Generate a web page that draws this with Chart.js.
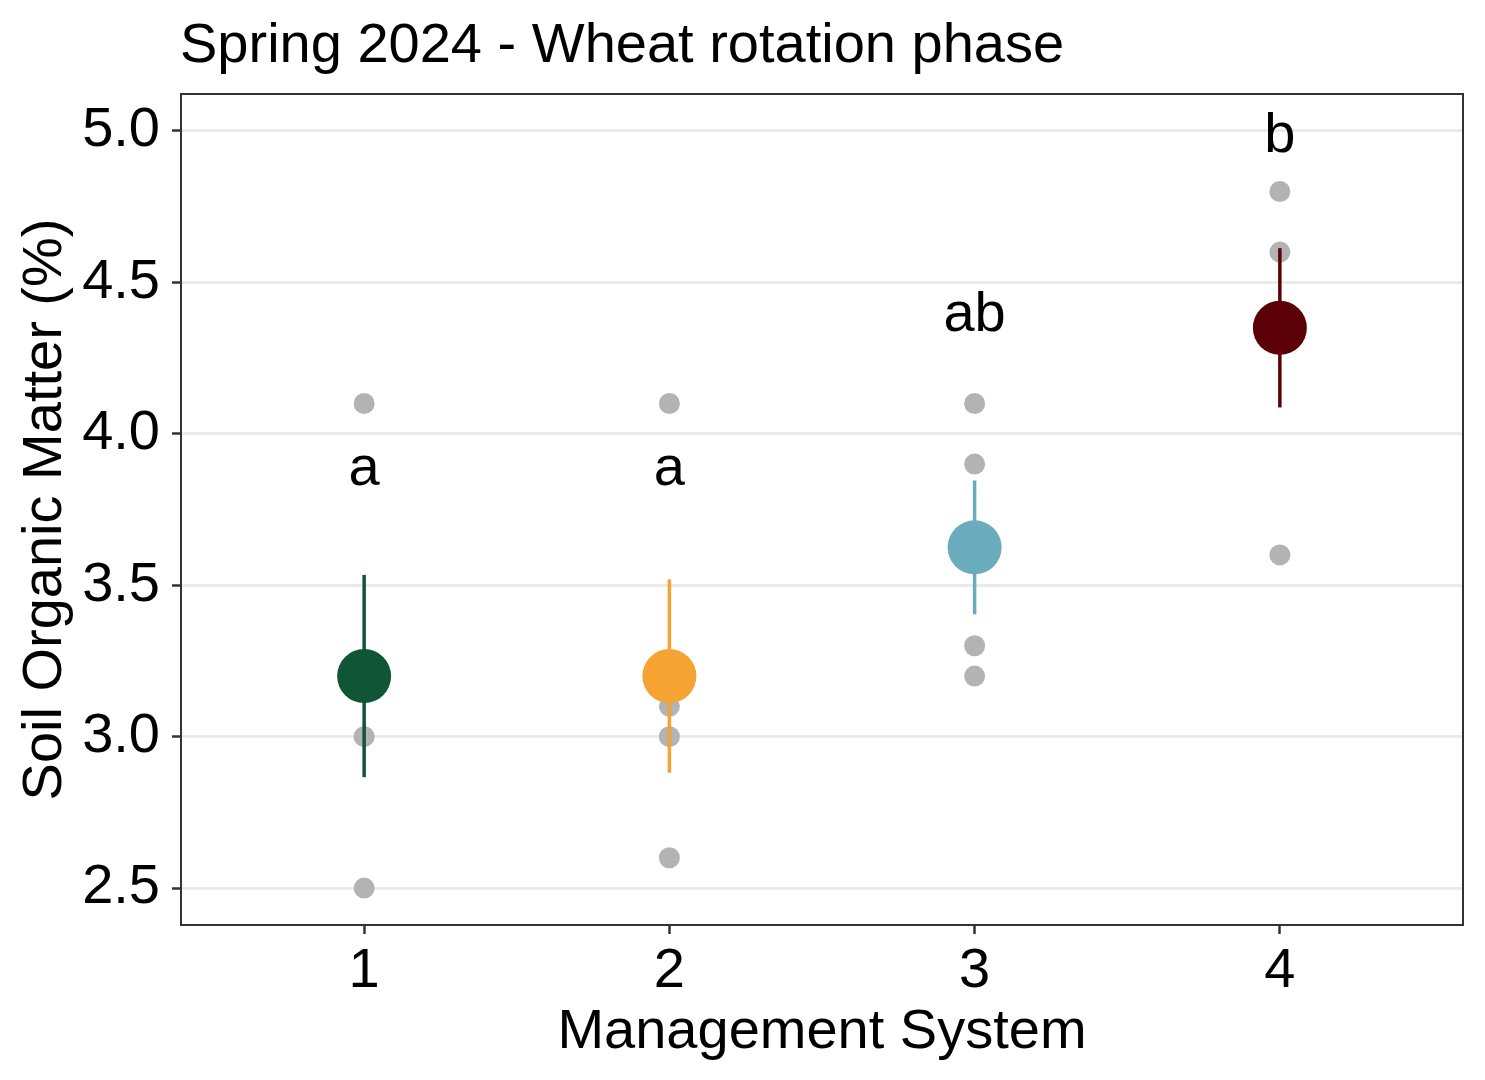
<!DOCTYPE html>
<html>
<head>
<meta charset="utf-8">
<title>Soil organic matter - Spring 2024</title>
<script src="https://cdn.jsdelivr.net/npm/chart.js@4.4.1/dist/chart.umd.min.js"></script>
<style>
html, body { margin: 0; padding: 0; background: #fff; overflow: hidden; }
/* a little wider than the window: Chart.js keeps a 27px margin for the big mean dots */
#wrap { width: 1490px; height: 1080px; position: relative; }
canvas { display: block; }
</style>
</head>
<body>
<div id="wrap"><canvas id="chart"></canvas></div>
<script>
// values
var systems = [1, 2, 3, 4];
var soilSys1 = [4.1, 3.2, 3.0, 2.5];
var soilSys2 = [4.1, 3.1, 3.0, 2.6];
var soilSys3 = [4.1, 3.9, 3.3, 3.2];
var soilSys4 = [4.8, 4.6, 4.4, 3.6];
var soilMean = [3.2, 3.2, 3.625, 4.35];
var soilSe = [0.334, 0.319, 0.221, 0.263];
var letters = ['a', 'a', 'ab', 'b'];
var letterY = [3.83, 3.83, 4.34, 4.93];
var yTicks = [2.5, 3.0, 3.5, 4.0, 4.5, 5.0];
var sysColors = ['#0f5536', '#f5a332', '#6aabbc', '#5c0008'];

var FONT = '"Liberation Sans", Arial, Helvetica, sans-serif';
Chart.defaults.font.family = FONT;
Chart.defaults.color = '#000';

var rawSets = [soilSys1, soilSys2, soilSys3, soilSys4];
var rawPoints = [];
rawSets.forEach(function (vals, i) {
    vals.forEach(function (v) {
        rawPoints.push({x: systems[i], y: v});
    });
});

var datasets = [{
    label: 'observations',
    data: rawPoints,
    pointRadius: 10.5,
    pointBackgroundColor: '#b3b3b3',
    pointBorderWidth: 0,
    showLine: false,
    order: 3
}];

// mean +/- se bars, one small line per system
systems.forEach(function (s, i) {
    datasets.push({
        label: 'se ' + s,
        data: [{x: s, y: soilMean[i] - soilSe[i]}, {x: s, y: soilMean[i] + soilSe[i]}],
        showLine: true,
        borderColor: sysColors[i],
        borderWidth: 3.5,
        pointRadius: 0,
        order: 2
    });
});

datasets.push({
    label: 'mean',
    data: systems.map(function (s, i) { return {x: s, y: soilMean[i]}; }),
    pointRadius: 27,
    pointBackgroundColor: sysColors,
    pointBorderWidth: 0,
    showLine: false,
    order: 1
});

var extras = {
    id: 'extras',
    afterDatasetsDraw: function (chart) {
        var ctx = chart.ctx;
        var xs = chart.scales.x, ys = chart.scales.y;
        ctx.save();
        ctx.fillStyle = '#000';
        ctx.font = '56px ' + FONT;
        ctx.textAlign = 'center';
        ctx.textBaseline = 'alphabetic';
        letters.forEach(function (t, i) {
            ctx.fillText(t, xs.getPixelForValue(systems[i]), ys.getPixelForValue(letterY[i]));
        });
        ctx.restore();
    },
    afterDraw: function (chart) {
        var ctx = chart.ctx, a = chart.chartArea;
        ctx.save();
        ctx.strokeStyle = '#333';
        ctx.lineWidth = 2;
        ctx.strokeRect(a.left, a.top, a.right - a.left, a.bottom - a.top);
        ctx.fillStyle = '#000';
        ctx.font = '56px ' + FONT;
        ctx.textAlign = 'left';
        ctx.textBaseline = 'alphabetic';
        ctx.fillText('Spring 2024 - Wheat rotation phase', 180, 62);
        ctx.restore();
    }
};

new Chart(document.getElementById('chart'), {
    type: 'scatter',
    data: {datasets: datasets},
    plugins: [extras],
    options: {
        responsive: true,
        maintainAspectRatio: false,
        devicePixelRatio: 1,
        animation: false,
        events: [],
        layout: {padding: {left: 0, right: 27, top: 94, bottom: 0}},
        plugins: {legend: {display: false}, tooltip: {enabled: false}},
        scales: {
            x: {
                type: 'linear',
                min: 0.4,
                max: 4.6,
                afterBuildTicks: function (scale) {
                    scale.ticks = systems.map(function (s) { return {value: s}; });
                },
                afterFit: function (scale) { scale.height = 155; },
                grid: {drawOnChartArea: false, tickLength: 9, tickColor: '#333', tickWidth: 2.5},
                border: {display: false},
                ticks: {
                    font: {size: 56, lineHeight: 1.2},
                    color: '#000',
                    padding: 4,
                    maxRotation: 0,
                    autoSkip: false,
                    callback: function (v) { return String(v); }
                },
                title: {
                    display: true,
                    text: 'Management System',
                    color: '#000',
                    font: {size: 56, lineHeight: 1.2},
                    padding: {top: 0, bottom: 14}
                }
            },
            y: {
                min: 2.378,
                max: 5.122,
                afterBuildTicks: function (scale) {
                    scale.ticks = yTicks.map(function (v) { return {value: v}; });
                },
                afterFit: function (scale) { scale.width = 181; },
                grid: {color: '#ebebeb', lineWidth: 3, tickLength: 9, tickColor: '#333', tickWidth: 2.5},
                border: {display: false},
                ticks: {
                    font: {size: 56, lineHeight: 1.2},
                    color: '#000',
                    padding: 12,
                    callback: function (v) { return Number(v).toFixed(1); }
                },
                title: {
                    display: true,
                    text: 'Soil Organic Matter (%)',
                    color: '#000',
                    font: {size: 56, lineHeight: 1.2},
                    padding: {top: 12, bottom: 0}
                }
            }
        }
    }
});
</script>
</body>
</html>
